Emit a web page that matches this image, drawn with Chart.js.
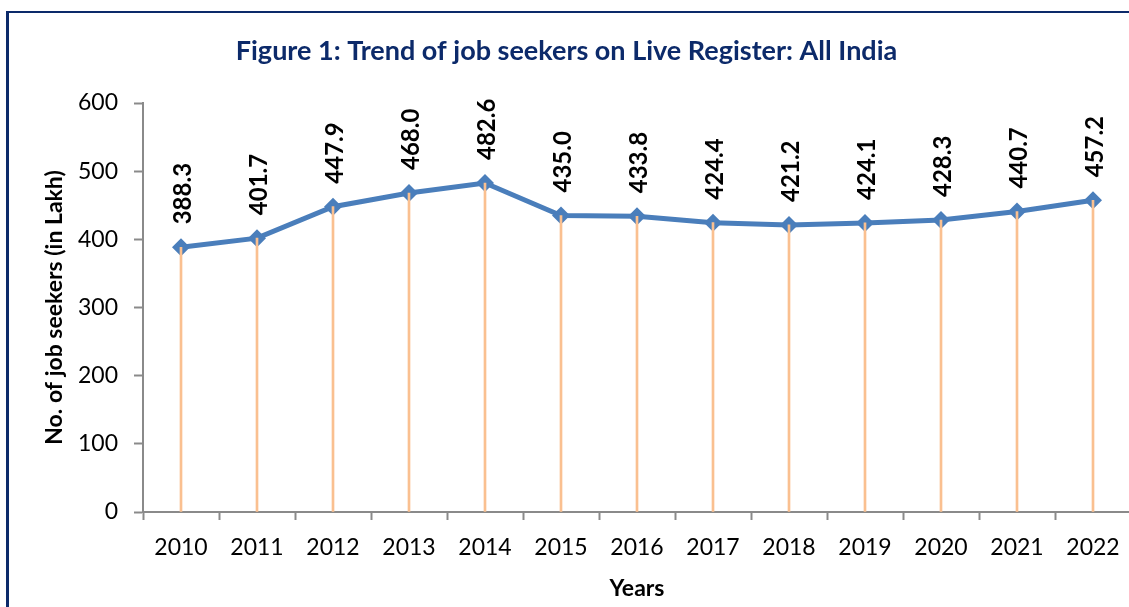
<!DOCTYPE html>
<html>
<head>
<meta charset="utf-8">
<script src="https://cdn.jsdelivr.net/npm/chart.js@4.4.0/dist/chart.umd.min.js"></script>
<style>
  html, body { margin: 0; padding: 0; background: #fff; overflow: hidden; }
  #frame {
    position: absolute; left: 6px; top: 11px; width: 1200px; height: 700px;
    border-left: 3px solid #0c2a6a; border-top: 2px solid #0c2a6a;
  }
  #chart { position: absolute; left: 0; top: 0; }
</style>
</head>
<body>
<div id="frame"></div>
<canvas id="chart" width="1140" height="607"></canvas>
<script>
const years = ["2010", "2011", "2012", "2013", "2014", "2015", "2016", "2017", "2018", "2019", "2020", "2021", "2022"];
const jobSeekers = [388.3, 401.7, 447.9, 468.0, 482.6, 435.0, 433.8, 424.4, 421.2, 424.1, 428.3, 440.7, 457.2];
const yTicks = [0, 100, 200, 300, 400, 500, 600];

const FONT = "Lato";
const AXIS_GREY = "#8a8a8a";

// vertical value labels above each point
const valueLabels = {
  id: "valueLabels",
  afterDatasetsDraw(chart) {
    const meta = chart.getDatasetMeta(1);
    const ctx = chart.ctx;
    ctx.save();
    ctx.font = "bold 24px " + FONT;
    ctx.fillStyle = "#000";
    ctx.textAlign = "left";
    ctx.textBaseline = "middle";
    meta.data.forEach((pt, i) => {
      ctx.save();
      ctx.translate(pt.x + 2, pt.y - 23);
      ctx.rotate(-Math.PI / 2);
      ctx.fillText(jobSeekers[i].toFixed(1), 0, 0);
      ctx.restore();
    });
    ctx.restore();
  },
};

new Chart(document.getElementById("chart"), {
  data: {
    labels: years,
    datasets: [
      {
        type: "bar",
        label: "drop",
        data: jobSeekers,
        backgroundColor: "#fac090",
        barThickness: 2,
        borderWidth: 0,
      },
      {
        type: "line",
        label: "Job seekers",
        data: jobSeekers,
        borderColor: "#4a7ebb",
        borderWidth: 5,
        tension: 0,
        pointStyle: "rectRot",
        pointRadius: 9,
        pointBackgroundColor: "#4a7ebb",
        pointBorderWidth: 0,
      },
    ],
  },
  options: {
    responsive: false,
    animation: false,
    events: [],
    layout: { padding: { top: 0, left: 0, right: 7, bottom: 0 } },
    plugins: {
      legend: { display: false },
      tooltip: { enabled: false },
      title: {
        display: true,
        text: "Figure 1: Trend of job seekers on Live Register: All India",
        color: "#0c2a6a",
        font: { family: FONT, size: 27, weight: "bold" },
        padding: { top: 34.8, bottom: 35.8 },
      },
    },
    scales: {
      x: {
        afterFit: (s) => { s.height = 95; },
        grid: {
          display: true,
          drawOnChartArea: false,
          drawTicks: true,
          tickLength: 8,
          tickColor: AXIS_GREY,
          tickWidth: 2,
          offset: true,
        },
        border: { color: AXIS_GREY, width: 2 },
        ticks: {
          color: "#000",
          font: { family: FONT, size: 23 },
          padding: 14,
          maxRotation: 0,
        },
        title: {
          display: true,
          text: "Years",
          color: "#000",
          font: { family: FONT, size: 23, weight: "bold" },
          padding: { top: 0, bottom: 5 },
        },
      },
      y: {
        min: 0,
        max: 600,
        afterFit: (s) => { s.width = 143; },
        afterBuildTicks: (s) => { s.ticks = yTicks.map((v) => ({ value: v })); },
        grid: {
          display: true,
          drawOnChartArea: false,
          tickLength: 9,
          tickColor: AXIS_GREY,
          tickWidth: 2,
        },
        border: { color: AXIS_GREY, width: 2 },
        ticks: {
          color: "#000",
          font: { family: FONT, size: 23 },
          padding: 16,
        },
        title: {
          display: true,
          text: "No. of job seekers (in Lakh)",
          color: "#000",
          font: { family: FONT, size: 23, weight: "bold" },
          padding: { top: 41, bottom: 0 },
        },
      },
    },
  },
  plugins: [valueLabels],
});
</script>
</body>
</html>
